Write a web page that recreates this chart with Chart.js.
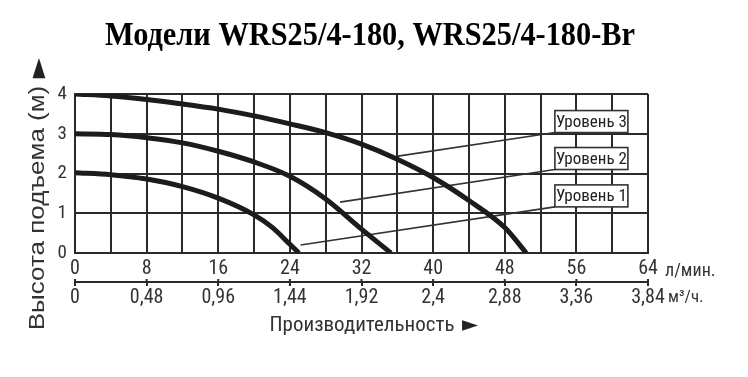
<!DOCTYPE html>
<html lang="ru">
<head>
<meta charset="utf-8">
<script src="https://cdn.jsdelivr.net/npm/chart.js@4.4.1/dist/chart.umd.min.js"></script>
<style>
    html, body { margin: 0; padding: 0; background: #fff; }
    #wrap { width: 748px; height: 377px; position: relative; }
</style>
</head>
<body>
<div id="wrap"><canvas id="chart"></canvas></div>
<script>
(function () {
    "use strict";

    // Axis ticks
    const flowTicks = [0, 8, 16, 24, 32, 40, 48, 56, 64]; // л/мин.
    const m3Labels = ["0", "0,48", "0,96", "1,44", "1,92", "2,4", "2,88", "3,36", "3,84"]; // м³/ч.

    // Pump curves (flow л/мин. -> head м)
    const level1Flow = [0, 4, 8, 12, 16, 20, 22, 24, 25];
    const level1Head = [2.02, 1.97, 1.86, 1.67, 1.38, 0.96, 0.65, 0.22, 0];
    const level2Flow = [0, 4, 8, 12, 16, 20, 24, 28, 32, 35.3];
    const level2Head = [3.0, 2.98, 2.9, 2.77, 2.56, 2.29, 1.93, 1.36, 0.6, 0];
    const level3Flow = [0, 4, 8, 12, 16, 20, 24, 28, 32, 36, 40, 44, 48, 50.4];
    const level3Head = [4.0, 3.95, 3.86, 3.75, 3.62, 3.45, 3.25, 3.03, 2.74, 2.36, 1.9, 1.32, 0.64, 0];

    // Labels and their leader lines (start on the curve, end at the label box)
    const levelNames = ["Уровень 1", "Уровень 2", "Уровень 3"];
    const leaderFrom = [[25.2, 0.2], [29.6, 1.28], [35.9, 2.43]];
    const leaderTo = [[53.6, 1.16], [53.6, 2.1], [53.6, 3.03]];

    const NARROW = '"Liberation Sans Narrow", "Roboto Condensed", "Noto Sans", "Liberation Sans", sans-serif';
    const INK = "#2a2a2a";
    const TEXT = "#333";

    const pts = (flow, head) => flow.map((f, i) => ({ x: f, y: head[i] }));

    const curve = (data) => ({
        data: data,
        borderColor: "#1c1c1c",
        borderWidth: 5,
        pointRadius: 0,
        cubicInterpolationMode: "monotone",
        borderCapStyle: "butt",
        fill: false,
        order: 0,
    });

    const leader = (i) => ({
        data: [
            { x: leaderFrom[i][0], y: leaderFrom[i][1] },
            { x: leaderTo[i][0], y: leaderTo[i][1] },
        ],
        borderColor: "#333",
        borderWidth: 1.6,
        pointRadius: 0,
        tension: 0,
        fill: false,
        order: 1,
    });

    // Label boxes drawn at the leader line ends
    const labelBoxes = {
        id: "labelBoxes",
        afterDatasetsDraw(chart) {
            const { ctx, scales } = chart;
            const w = 73, h = 22;
            ctx.save();
            levelNames.forEach((name, i) => {
                const left = scales.x.getPixelForValue(leaderTo[i][0]);
                const bottom = scales.y.getPixelForValue(leaderTo[i][1]);
                ctx.fillStyle = "#fff";
                ctx.fillRect(left, bottom - h, w, h);
                ctx.strokeStyle = "#333";
                ctx.lineWidth = 1.6;
                ctx.strokeRect(left, bottom - h, w, h);
                ctx.fillStyle = "#222";
                ctx.font = "condensed 17px " + NARROW;
                ctx.textAlign = "center";
                ctx.textBaseline = "middle";
                ctx.fillText(name, left + w / 2, bottom - h / 2 + 1);
            });
            ctx.restore();
        },
    };

    // Title, axis titles, units and the small ticks above the m³/ч. axis
    const extras = {
        id: "extras",
        afterDraw(chart) {
            const { ctx, chartArea, scales } = chart;
            ctx.save();

            ctx.strokeStyle = INK;
            ctx.lineWidth = 2;
            flowTicks.forEach((v) => {
                const px = scales.x2.getPixelForValue(v);
                ctx.beginPath();
                ctx.moveTo(px, scales.x2.top - 3);
                ctx.lineTo(px, scales.x2.top);
                ctx.stroke();
            });

            ctx.fillStyle = "#000";
            ctx.textAlign = "center";
            ctx.textBaseline = "middle";

            ctx.save();
            ctx.translate(370, 36);
            ctx.scale(0.92, 1);
            ctx.font = 'bold 33px "Liberation Serif", "Times New Roman", serif';
            ctx.fillText("Модели WRS25/4-180, WRS25/4-180-Br", 0, 0);
            ctx.restore();

            ctx.fillStyle = TEXT;
            ctx.save();
            ctx.translate(38, 208);
            ctx.rotate(-Math.PI / 2);
            ctx.scale(1, 0.82);
            ctx.font = '26px "Liberation Sans", Arial, sans-serif';
            ctx.fillText("Высота подъема (м)", 0, 0);
            ctx.restore();

            ctx.fillStyle = "#222";
            ctx.save();
            ctx.translate(39, 68);
            ctx.scale(0.7, 1.1);
            ctx.font = '24px "DejaVu Sans", sans-serif';
            ctx.fillText("▲", 0, 0);
            ctx.restore();

            ctx.fillStyle = TEXT;
            ctx.font = "condensed 21px " + NARROW;
            ctx.fillText("Производительность", 362, 326);
            ctx.fillStyle = "#222";
            ctx.font = '21px "DejaVu Sans", sans-serif';
            ctx.fillText("►", 470, 326);

            ctx.fillStyle = TEXT;
            ctx.textAlign = "left";
            ctx.font = "condensed 18px " + NARROW;
            ctx.fillText("л/мин.", chartArea.right + 17, 271);
            ctx.font = "condensed 17px " + NARROW;
            ctx.fillText("м³/ч.", chartArea.right + 20, 298);
            ctx.restore();
        },
    };

    const ctx = document.getElementById("chart").getContext("2d");
    new Chart(ctx, {
        type: "line",
        data: {
            datasets: [
                curve(pts(level3Flow, level3Head)),
                curve(pts(level2Flow, level2Head)),
                curve(pts(level1Flow, level1Head)),
                leader(0),
                leader(1),
                leader(2),
            ],
        },
        options: {
            responsive: true,
            maintainAspectRatio: false,
            animation: false,
            layout: { padding: { top: 94, right: 100, left: 0, bottom: 0 } },
            plugins: {
                legend: { display: false },
                tooltip: { enabled: false },
            },
            scales: {
                x: {
                    type: "linear",
                    min: 0,
                    max: 64,
                    weight: 0,
                    ticks: {
                        stepSize: 4,
                        autoSkip: false,
                        maxRotation: 0,
                        padding: 4,
                        color: TEXT,
                        font: { family: NARROW, size: 20, style: "condensed" },
                        callback: (v) => (v % 8 === 0 ? v : ""),
                    },
                    grid: { color: INK, lineWidth: 2, drawTicks: false },
                    border: { color: INK, width: 2 },
                    afterFit: (s) => { s.height = 29; },
                },
                x2: {
                    type: "linear",
                    position: "bottom",
                    min: 0,
                    max: 64,
                    weight: 1,
                    ticks: {
                        stepSize: 8,
                        autoSkip: false,
                        maxRotation: 0,
                        padding: 0,
                        color: TEXT,
                        font: { family: NARROW, size: 20, style: "condensed" },
                        callback: (v) => m3Labels[flowTicks.indexOf(v)],
                    },
                    grid: { drawOnChartArea: false, color: INK, lineWidth: 2, tickLength: 4 },
                    border: { color: INK, width: 2 },
                    afterFit: (s) => { s.height = 95; },
                },
                y: {
                    type: "linear",
                    min: 0,
                    max: 4,
                    ticks: {
                        stepSize: 1,
                        padding: 8,
                        color: TEXT,
                        font: { family: NARROW, size: 19, style: "condensed" },
                    },
                    grid: { color: INK, lineWidth: 2, drawTicks: false },
                    border: { color: INK, width: 2 },
                    afterFit: (s) => { s.width = 75; },
                },
            },
        },
        plugins: [labelBoxes, extras],
    });
})();
</script>
</body>
</html>
